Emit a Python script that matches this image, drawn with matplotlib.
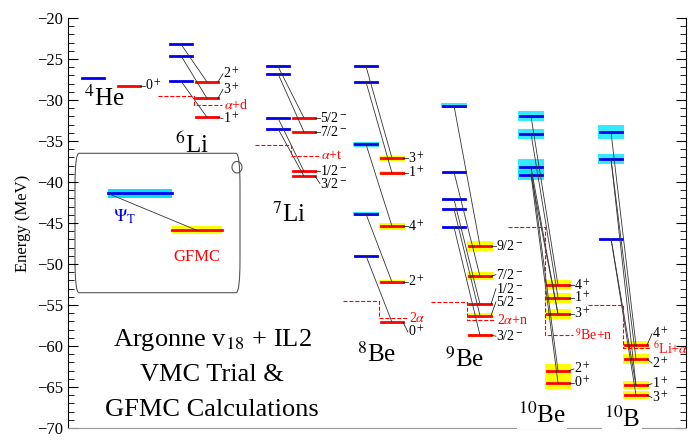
import matplotlib
matplotlib.use("Agg")
import matplotlib.pyplot as plt
from matplotlib.patches import FancyBboxPatch, Arc

# ---- data ----
nuclei = ["$^4$He", "$^6$Li", "$^7$Li", "$^8$Be", "$^9$Be", "$^{10}$Be", "$^{10}$B"]
vmc = [[-27.3], [-23.2, -24.6, -27.7], [-25.9, -26.8, -32.2, -33.5],
       [-25.9, -27.8, -35.4, -43.9, -49.0], [-30.7, -38.8, -42.1, -43.3, -45.5],
       [-32.0, -34.1, -38.2, -39.1], [-33.9, -37.2, -46.9]]
vmc_unc = [[0.1], [0.1, 0.1, 0.1], [0.1, 0.1, 0.1, 0.1], [0.1, 0.1, 0.3, 0.2, 0.1],
           [0.3, 0.1, 0.1, 0.1, 0.1], [0.6, 0.6, 1.0, 0.6], [0.8, 0.6, 0.1]]
gfmc = [[-28.3], [-27.8, -29.8, -32.1], [-32.2, -33.9, -38.7, -39.3],
        [-37.1, -38.9, -45.4, -52.2, -57.1], [-47.8, -51.5, -54.9, -56.3, -58.7],
        [-52.6, -54.1, -56.1, -63.0, -64.5], [-59.9, -61.6, -64.8, -66.0]]
gfmc_unc = [[0.05], [0.1, 0.1, 0.1], [0.1, 0.1, 0.1, 0.1], [0.3, 0.2, 0.4, 0.2, 0.1],
            [0.6, 0.5, 0.2, 0.3, 0.2], [0.6, 0.6, 0.6, 0.8, 0.7], [0.5, 0.6, 0.5, 0.5]]
links = [[(0, 0)], [(0, 0), (1, 1), (2, 2)], [(0, 0), (1, 1), (2, 2), (3, 3)],
         [(0, 0), (1, 1), (2, 2), (3, 3), (4, 4)], [(0, 0), (1, 1), (2, 2), (3, 3), (4, 4)],
         [(0, 0), (1, 1), (2, 2), (2, 3), (3, 4), (3, 2)],
         [(0, 0), (1, 1), (2, 2), (2, 3), (1, 2)]]
jpi = [["0$^+$"], ["2$^+$", "3$^+$", "1$^+$"], ["5/2$^-$", "7/2$^-$", "1/2$^-$", "3/2$^-$"],
       ["3$^+$", "1$^+$", "4$^+$", "2$^+$", "0$^+$"],
       ["9/2$^-$", "7/2$^-$", "1/2$^-$", "5/2$^-$", "3/2$^-$"],
       ["4$^+$", "1$^+$", "3$^+$", "2$^+$", "0$^+$"], ["4$^+$", "2$^+$", "1$^+$", "3$^+$"]]
label_pos = [[-28.3], [-26.8, -28.7, -32.3], [-32.2, -33.9, -38.7, -40.2],
             [-37.1, -38.9, -45.4, -52.2, -58.3],
             [-47.8, -51.3, -53.0, -54.6, -58.8],
             [-52.6, -54.1, -56.1, -62.8, -64.5], [-58.5, -62.1, -64.6, -66.3]]
thresh_names = ["", "$\\alpha$+d", "$\\alpha$+t", "2$\\alpha$", "2$\\alpha$+n", "$^9$Be+n", "$^6$Li+$\\alpha$"]
thresh_vmc = [None, -29.5, -35.5, -54.5, -54.6, -45.5, -55.0]
thresh_gfmc = [None, -30.6, -36.8, -56.6, -56.8, -58.7, -60.3]
nuc_label_y = [-29.8, -35.5, -44.0, -61.0, -61.7, -68.4, -69.0]
yticks = [-20, -25, -30, -35, -40, -45, -50, -55, -60, -65, -70]

xb = [82, 170, 267, 355, 443, 520, 600]
xr = [118, 196, 293, 381, 469, 547, 625]
W = 22
plt.rcParams["font.family"] = "Liberation Serif"
plt.rcParams["mathtext.fontset"] = "stix"

fig = plt.figure(figsize=(6.92, 4.47), dpi=100)
ax = fig.add_axes([68/692, 19/447, 618/692, 410/447])
ax.set_xlim(68, 686)
ax.set_ylim(-70, -20)

for i in range(len(nuclei)):
    for e, u in zip(vmc[i], vmc_unc[i]):
        if u > 0.15:
            ax.fill_between([xb[i]-2, xb[i]+W+2], e-u, e+u, color="#00e5ff", lw=0, alpha=0.8)
        ax.plot([xb[i], xb[i]+W], [e, e], color="#0000ee", lw=2)
    for e, u in zip(gfmc[i], gfmc_unc[i]):
        if u > 0.15:
            ax.fill_between([xr[i]-2, xr[i]+W+2], e-u, e+u, color="#ffff00", lw=0)
        ax.plot([xr[i], xr[i]+W], [e, e], color="#ff0000", lw=2)
    if i > 0:
        for a, b in links[i]:
            ax.plot([xb[i]+W/2, xr[i]+W/2], [vmc[i][a], gfmc[i][b]], color="#333333", lw=0.6)
    for e, lab, ly in zip(gfmc[i], jpi[i], label_pos[i]):
        ax.plot([xr[i]+W, xr[i]+W+5], [e, ly], color="k", lw=0.5)
        ax.text(xr[i]+W+5, ly, lab, fontsize=10, va="center", ha="left")
    if thresh_vmc[i] is not None:
        x0 = xb[i] - 12
        xm = xr[i] - 2
        ax.plot([x0, xm, xm, xr[i]+W+4], [thresh_vmc[i], thresh_vmc[i], thresh_gfmc[i], thresh_gfmc[i]],
                color="red", ls="--", lw=0.8)
        ax.text(xr[i]+W+6, thresh_gfmc[i], thresh_names[i], color="red", fontsize=10, va="center")
    ax.text(xb[i]+W, nuc_label_y[i], nuclei[i], fontsize=18, ha="center", va="center",
            bbox=dict(fc="white", ec="none", pad=1) if i >= 5 else None)

# scroll inset
ax.add_patch(FancyBboxPatch((75, -53.5), 165, 17, boxstyle="round,pad=0,rounding_size=4",
                            fc="white", ec="#555555", lw=0.8))
ax.add_patch(Arc((237, -38.2), 10, 1.4, theta1=0, theta2=360, color="#555555", lw=0.8))
ax.fill_between([108, 172], -41.9, -40.9, color="#00e5ff", lw=0)
ax.plot([108, 172], [-41.4, -41.4], color="#0000ee", lw=2)
ax.fill_between([172, 222], -46.4, -45.4, color="#ffff00", lw=0)
ax.plot([172, 222], [-45.9, -45.9], color="red", lw=2)
ax.plot([108, 197], [-41.4, -45.9], color="#333333", lw=0.6)
ax.text(125, -44.2, "$\\Psi_\\mathrm{T}$", color="#0000ee", fontsize=13, ha="center", va="center")
ax.text(197, -49.2, "GFMC", color="red", fontsize=12, ha="center", va="center")

for k, s in enumerate(["Argonne v$_{18}$ + IL2", "VMC Trial &", "GFMC Calculations"]):
    ax.text(212, -59.3 - 4.25*k, s, fontsize=19, ha="center", va="center")

ax.set_yticks(yticks)
ax.set_yticks(range(-70, -19), minor=True)
ax.tick_params(axis="y", which="both", right=True, direction="in", labelsize=12)
ax.tick_params(axis="y", which="major", length=7)
ax.tick_params(axis="y", which="minor", length=4)
ax.set_xticks([])
ax.spines["top"].set_visible(False)
ax.spines["bottom"].set_color("#999999")
ax.set_ylabel("Energy (MeV)", fontsize=12)
fig.savefig("out.png", dpi=100)
